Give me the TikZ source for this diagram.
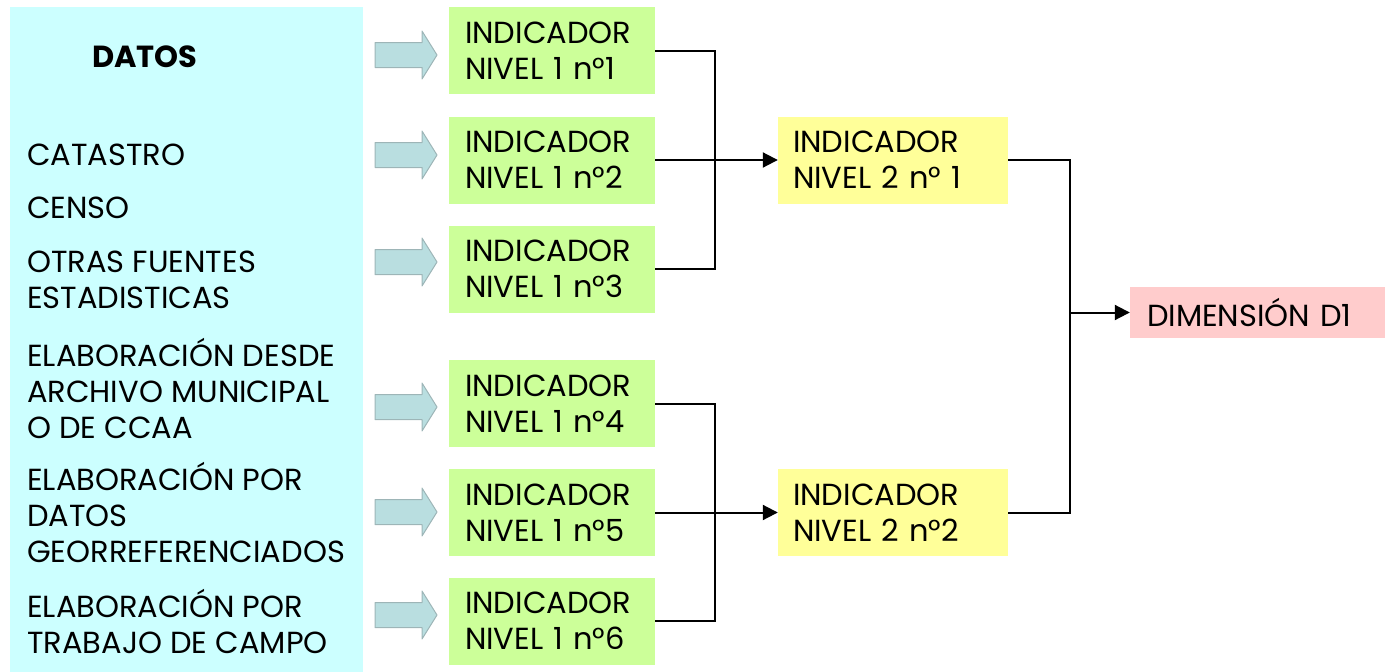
\documentclass[tikz,border=0pt]{standalone}
\usepackage{fontspec}
\setmainfont{Poppins}
\usetikzlibrary{arrows.meta}
\definecolor{panelcyan}{HTML}{CCFFFF}
\definecolor{nivelgreen}{HTML}{CCFF99}
\definecolor{nivelyellow}{HTML}{FFFF99}
\definecolor{dimpink}{HTML}{FFCCCC}
\definecolor{flechafill}{HTML}{B9DEE0}
\definecolor{flechadraw}{HTML}{9DB5B7}
\begin{document}
\begin{tikzpicture}[x=1pt,y=-1pt,
    font=\fontsize{30.5}{36}\selectfont,
    fuente/.style={anchor=west,align=left,inner sep=0pt},
    flecha/.style={fill=flechafill,draw=flechadraw,line width=1pt,line join=round},
    nivelA/.style={fill=nivelgreen,minimum height=87pt,text width=174pt,
        inner xsep=16pt,align=left},
    nivelB/.style={fill=nivelyellow,minimum height=87pt,text width=200pt,
        inner xsep=15pt,align=left},
    dimbox/.style={fill=dimpink,minimum height=51pt,text width=221pt,
        inner xsep=17pt,align=left},
    linea/.style={line width=2pt},
    punta/.style={linea,-{Triangle[length=15pt,width=15pt]}}]
    \useasboundingbox (0,0) rectangle (1385,672);
    \fill[panelcyan] (10,7) rectangle (363,672);

    \node at (145,57)   (datos) {\bfseries DATOS};
    \node[fuente] at (27,155)   (catastro) {CATASTRO};
    \node[fuente] at (27,208)   (censo)    {CENSO};
    \node[fuente] at (27,279.5) (otras)    {OTRAS FUENTES\\ESTADISTICAS};
    \node[fuente] at (27,388)   (archivo)  {ELABORACIÓN DESDE\\ARCHIVO MUNICIPAL\\O DE CCAA};
    \node[fuente] at (27,512.5) (georef)   {ELABORACIÓN POR\\DATOS\\GEORREFERENCIADOS};
    \node[fuente] at (27,621)   (campo)    {ELABORACIÓN POR\\TRABAJO DE CAMPO};

    \foreach \y in {55,155,262,407,512,615}
        \draw[flecha] (375,\y-12.5) -- (422,\y-12.5) -- (422,\y-24) -- (437,\y)
            -- (422,\y+24) -- (422,\y+12.5) -- (375,\y+12.5) -- cycle;

    \node[nivelA] at (552,50.5)  (n1) {INDICADOR\\NIVEL 1 n°1};
    \node[nivelA] at (552,160)   (n2) {INDICADOR\\NIVEL 1 n°2};
    \node[nivelA] at (552,269)   (n3) {INDICADOR\\NIVEL 1 n°3};
    \node[nivelA] at (552,403.5) (n4) {INDICADOR\\NIVEL 1 n°4};
    \node[nivelA] at (552,512.5) (n5) {INDICADOR\\NIVEL 1 n°5};
    \node[nivelA] at (552,621)   (n6) {INDICADOR\\NIVEL 1 n°6};

    \node[nivelB] at (893,160)   (m1) {INDICADOR\\NIVEL 2 n° 1};
    \node[nivelB] at (893,512.5) (m2) {INDICADOR\\NIVEL 2 n°2};

    \node[dimbox] at (1257.5,312.5) (dim) {DIMENSIÓN D1};

    \coordinate (j1) at (715,160);
    \coordinate (j2) at (715,512.5);
    \coordinate (j3) at (1070,312.5);

    \draw[linea] (n1.east) -| (j1) |- (n3.east);
    \draw[punta] (n2.east) -- (m1.west);
    \draw[linea] (n4.east) -| (j2) |- (n6.east);
    \draw[punta] (n5.east) -- (m2.west);
    \draw[linea] (m1.east) -| (j3) |- (m2.east);
    \draw[punta] (j3) -- (dim.west);
\end{tikzpicture}
\end{document}
